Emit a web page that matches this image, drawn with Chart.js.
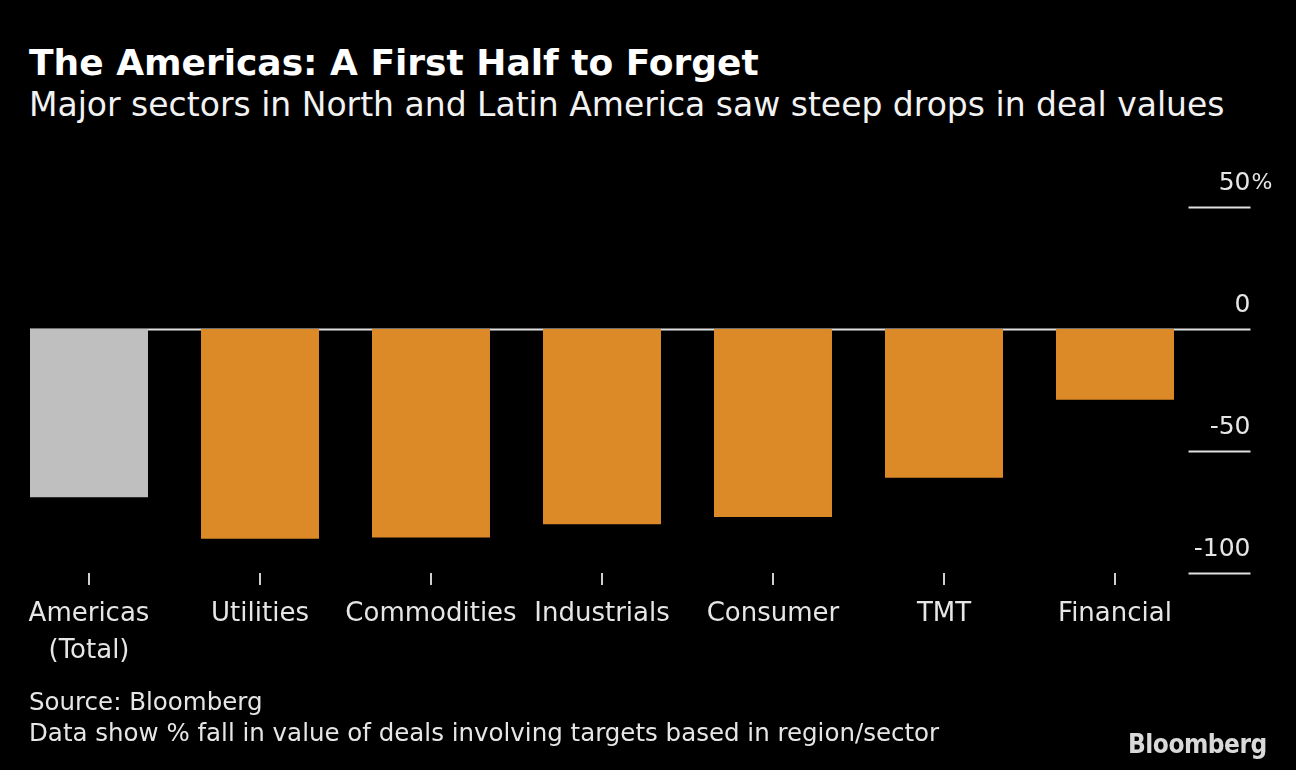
<!DOCTYPE html>
<html>
<head>
<meta charset="UTF-8">
<title>The Americas: A First Half to Forget</title>
<script src="https://cdn.jsdelivr.net/npm/chart.js@4.4.1/dist/chart.umd.min.js"></script>
<style>
  html, body { margin: 0; padding: 0; background: #000; }
  body { width: 1296px; height: 770px; position: relative; overflow: hidden;
         font-family: "DejaVu Sans", sans-serif; color: #e6e6e6; }
  .txt { position: absolute; left: 29px; line-height: 1; white-space: nowrap; }
  #title { top: 45px; font-size: 36px; font-weight: bold; color: #fff; }
  #subtitle { top: 88px; font-size: 33px; color: #f2f2f2; }
  #source { top: 690px; font-size: 24.5px; }
  #note { top: 721px; font-size: 24.5px; }
  #logo { position: absolute; left: 1128px; top: 729px; font-size: 26px; font-weight: bold;
          font-family: "Liberation Sans Narrow", "DejaVu Sans Condensed", sans-serif; color: #d9d9d9; letter-spacing: -0.5px; }
  #wrap { position: absolute; left: 0; top: 0; width: 1296px; height: 770px; }
</style>
</head>
<body>
<div class="txt" id="title">The Americas: A First Half to Forget</div>
<div class="txt" id="subtitle">Major sectors in North and Latin America saw steep drops in deal values</div>
<div id="wrap"><canvas id="chart"></canvas></div>
<div class="txt" id="source">Source: Bloomberg</div>
<div class="txt" id="note">Data show % fall in value of deals involving targets based in region/sector</div>
<div id="logo">Bloomberg</div>
<script>
var sectors = [["Americas", "(Total)"], "Utilities", "Commodities", "Industrials", "Consumer", "TMT", "Financial"]
var change = [-69, -86, -85.5, -80, -77, -61, -29]
var barColors = ["#bfbfbf", "#dc8a27", "#dc8a27", "#dc8a27", "#dc8a27", "#dc8a27", "#dc8a27"]
var yTicks = [-100, -50, 0, 50]

var fontFamily = '"DejaVu Sans", sans-serif'

// right-hand value labels with short rules, plus the full-width zero line
var axisDecor = {
    id: 'axisDecor',
    beforeDatasetsDraw: function(chart) {
        var ctx = chart.ctx
        var area = chart.chartArea
        var y = chart.scales.y
        var first = chart.getDatasetMeta(0).data[0]
        var xStart = first.x - first.width / 2
        var xEnd = area.right + 50
        ctx.save()
        ctx.strokeStyle = '#e0e0e0'
        ctx.lineWidth = 2
        ctx.fillStyle = '#e6e6e6'
        ctx.textBaseline = 'alphabetic'
        yTicks.forEach(function(v) {
            var py = Math.round(y.getPixelForValue(v)) + 0.5
            ctx.beginPath()
            ctx.moveTo(v === 0 ? xStart : area.right - 12, py)
            ctx.lineTo(xEnd, py)
            ctx.stroke()
            ctx.font = '25px ' + fontFamily
            ctx.textAlign = 'right'
            ctx.fillText(String(v), xEnd, py - 18)
            if (v === yTicks[yTicks.length - 1]) {
                ctx.font = '22px ' + fontFamily
                ctx.textAlign = 'left'
                ctx.fillText('%', xEnd + 1, py - 19)
            }
        })
        ctx.restore()
    }
}

var chart = new Chart(document.getElementById('chart').getContext('2d'), {
    type: 'bar',
    data: {
        labels: sectors,
        datasets: [{
            data: change,
            backgroundColor: barColors,
            borderWidth: 0,
            categoryPercentage: 1,
            barPercentage: 0.69
        }]
    },
    options: {
        responsive: true,
        maintainAspectRatio: false,
        animation: false,
        layout: { padding: { top: 207, left: 3.5, right: 95.5, bottom: 77 } },
        plugins: { legend: { display: false }, tooltip: { enabled: false } },
        scales: {
            x: {
                afterFit: function(scale) { scale.height = 120 },
                grid: { display: true, drawOnChartArea: false, offset: false, tickLength: 12, color: '#cfcfcf', lineWidth: 2 },
                border: { display: false },
                ticks: {
                    color: '#e6e6e6',
                    font: { family: fontFamily, size: 26, lineHeight: 1.45 },
                    padding: 10,
                    maxRotation: 0,
                    autoSkip: false
                }
            },
            y: {
                display: false,
                min: -100,
                max: 50,
                ticks: { stepSize: 50 }
            }
        }
    },
    plugins: [axisDecor]
})
</script>
</body>
</html>
